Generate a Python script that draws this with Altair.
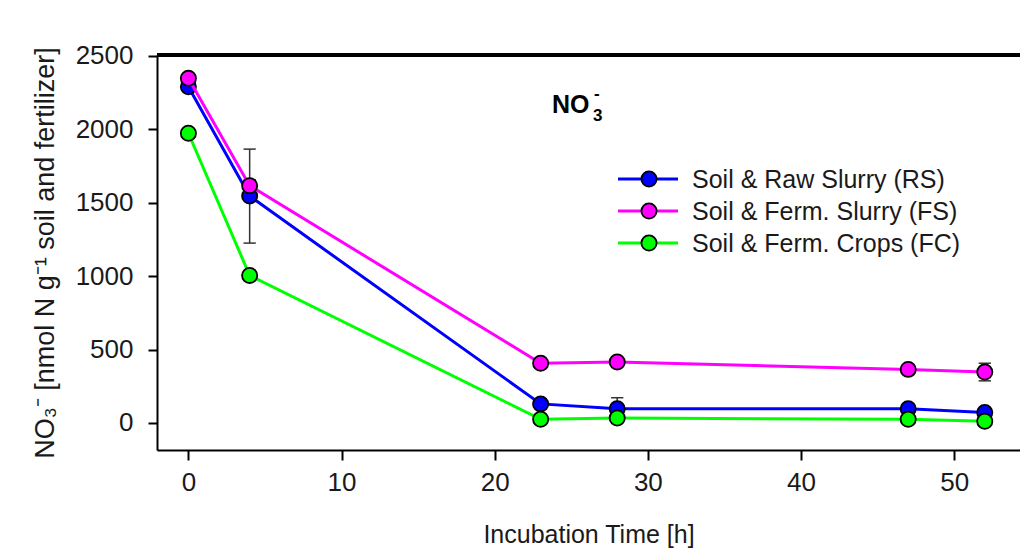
import altair as alt
import pandas as pd

# Incubation times (h) and NO3- concentrations (nmol N g-1) per treatment
time_h = [0, 4, 23, 28, 47, 52]

series_names = [
    "Soil & Raw Slurry (RS)",
    "Soil & Ferm. Slurry (FS)",
    "Soil & Ferm. Crops (FC)",
]
series_colors = ["#0000FF", "#FF00FF", "#00FF00"]

rs_values = [2290, 1545, 130, 97, 97, 72]
fs_values = [2347, 1616, 407, 415, 365, 347]
fc_values = [1973, 1005, 25, 34, 25, 12]

rs_err = [25, 320, 30, 75, 25, 25]
fs_err = [25, 40, 25, 25, 25, 60]
fc_err = [20, 20, 15, 15, 15, 15]

x_ticks = [0, 10, 20, 30, 40, 50]
y_ticks = [0, 500, 1000, 1500, 2000, 2500]

FONT = "Arial, Liberation Sans, sans-serif"
FS_ = 25
W, H = 863, 395
X_DOMAIN = [-2.05, 54.3]
Y_DOMAIN = [-184, 2506]

rows = []
for name, vals, errs in zip(series_names,
                            [rs_values, fs_values, fc_values],
                            [rs_err, fs_err, fc_err]):
    for t, v, e in zip(time_h, vals, errs):
        rows.append({"series": name, "time": t, "value": v, "err": e})
df = pd.DataFrame(rows)

x_scale = alt.Scale(domain=X_DOMAIN, nice=False, zero=False)
y_scale = alt.Scale(domain=Y_DOMAIN, nice=False, zero=False)
color_scale = alt.Scale(domain=series_names, range=series_colors)

x_enc = alt.X(
    "time:Q", scale=x_scale,
    axis=alt.Axis(values=x_ticks, format="d", title="Incubation Time [h]",
                  grid=False, tickSize=10, tickWidth=2, domainWidth=2,
                  labelPadding=9, titlePadding=27, labelFontSize=26,
                  titleFontSize=25),
)
y_enc = alt.Y(
    "value:Q", scale=y_scale,
    axis=alt.Axis(values=y_ticks, format="d",
                  title="NO₃⁻ [nmol N g⁻¹ soil and fertilizer]",
                  grid=False, tickSize=9, tickWidth=2, domainWidth=2,
                  labelPadding=15, titlePadding=16, labelFontSize=26,
                  titleFontSize=27),
)

layers = []
for name in series_names:
    base = alt.Chart(df).transform_filter(alt.datum.series == name)
    line = base.mark_line(strokeWidth=3).encode(
        x=x_enc, y=y_enc,
        color=alt.Color("series:N", scale=color_scale, legend=None),
    )
    err = base.transform_calculate(
        lo="datum.value - datum.err", hi="datum.value + datum.err",
        l="datum.time - 0.4", r="datum.time + 0.4",
    )
    err_v = err.mark_rule(color="#333333", strokeWidth=1.5).encode(
        x="time:Q", y="lo:Q", y2="hi:Q")
    cap_lo = err.mark_rule(color="#333333", strokeWidth=1.5).encode(
        x="l:Q", x2="r:Q", y="lo:Q")
    cap_hi = err.mark_rule(color="#333333", strokeWidth=1.5).encode(
        x="l:Q", x2="r:Q", y="hi:Q")
    pts = base.mark_point(shape="circle", filled=True, size=230,
                          stroke="black", strokeWidth=1.8, opacity=1).encode(
        x="time:Q", y="value:Q",
        fill=alt.Color("series:N", scale=color_scale, legend=None),
    )
    layers += [line, err_v, cap_lo, cap_hi, pts]

# top frame line
top_rule = alt.Chart(df).mark_rule(color="black", strokeWidth=3).encode(
    x=alt.value(0), x2=alt.value(W), y=alt.value(0))

# legend: line segment, marker and label per series
legend_layers = []
for i, (name, col) in enumerate(zip(series_names, series_colors)):
    yy = 124 + 32 * i
    d = alt.Chart(pd.DataFrame({"series": [name]}))
    legend_layers.append(d.mark_rule(color=col, strokeWidth=3).encode(
        x=alt.value(461), x2=alt.value(521), y=alt.value(yy)))
    legend_layers.append(d.mark_point(shape="circle", filled=True, size=230,
                                      fill=col, stroke="black", strokeWidth=1.8,
                                      opacity=1).encode(
        x=alt.value(492), y=alt.value(yy)))
    legend_layers.append(d.mark_text(align="left", baseline="middle", font=FONT,
                                     fontSize=FS_, color="#1a1a1a").encode(
        x=alt.value(535), y=alt.value(yy + 1), text="series:N"))

# panel label NO3-
lab = alt.Chart(pd.DataFrame({"t": ["NO", "3", "-"]}))
label_layers = [
    lab.transform_filter(alt.datum.t == "NO").mark_text(
        align="left", baseline="alphabetic", font=FONT, fontSize=FS_,
        fontWeight="bold", color="black").encode(
        x=alt.value(395), y=alt.value(58), text="t:N"),
    lab.transform_filter(alt.datum.t == "3").mark_text(
        align="left", baseline="alphabetic", font=FONT, fontSize=17,
        fontWeight="bold", color="black").encode(
        x=alt.value(436), y=alt.value(66), text="t:N"),
    lab.transform_filter(alt.datum.t == "-").mark_text(
        align="left", baseline="alphabetic", font=FONT, fontSize=17,
        fontWeight="bold", color="black").encode(
        x=alt.value(437), y=alt.value(44), text="t:N"),
]

chart = alt.layer(*layers, top_rule, *legend_layers, *label_layers).properties(
    width=W, height=H,
    autosize=alt.AutoSizeParams(type="none"),
    padding={"left": 157, "top": 55, "right": 0, "bottom": 105},
    background="white",
).configure_view(stroke=None).configure_axis(
    labelFont=FONT, titleFont=FONT,
    labelColor="#1a1a1a", titleColor="#1a1a1a", titleFontWeight="normal",
    domainColor="black", tickColor="black",
)

chart.save("out.html", embed_options={"renderer": "svg", "actions": False})
